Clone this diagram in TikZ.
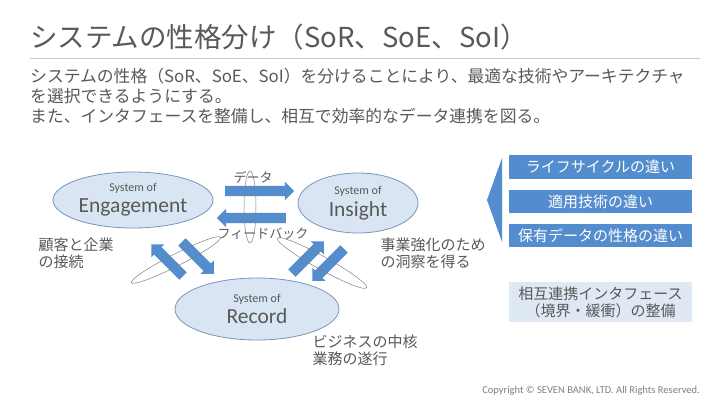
\documentclass[tikz,border=0pt]{standalone}
\usepackage{fontspec}
\setmainfont{Noto Sans CJK JP}
\newfontfamily\latinfont{Carlito}
\usetikzlibrary{shapes.geometric,shapes.arrows}
\definecolor{textgray}{RGB}{89,89,89}
\definecolor{rulegray}{RGB}{200,200,200}
\definecolor{arrblue}{RGB}{84,141,205}
\definecolor{ellfill}{RGB}{218,229,243}
\definecolor{ellline}{RGB}{120,150,185}
\definecolor{lightbox}{RGB}{222,233,244}
\definecolor{copygray}{RGB}{128,128,128}
\tikzset{
	sysell/.style={ellipse,draw=ellline,fill=ellfill,line width=.8pt,inner sep=0pt,align=center,text=textgray},
	blockarr/.style={single arrow,fill=arrblue,draw=none,inner xsep=0pt,inner ysep=5pt,
		single arrow head extend=4pt,minimum height=#1},
	ring/.style={ellipse,draw=gray,line width=.5pt,inner sep=0pt},
	bluebox/.style={fill=arrblue,text=white,minimum width=183pt,inner sep=0pt,
		font=\fontsize{15}{18}\selectfont},
	notetext/.style={text=textgray,align=left,anchor=west,font=\fontsize{15}{17}\selectfont}
}
\newcommand{\sysname}[1]{{\latinfont\fontsize{12}{14}\selectfont System of}\\[4pt]{\latinfont\fontsize{21.5}{23}\selectfont #1}}
\begin{document}
\begin{tikzpicture}[x=1pt,y=-1pt]
	\useasboundingbox[fill=white] (0,0) rectangle (720,405);
	%	title and lead text
	\node (title) [anchor=west,text=textgray,inner sep=0pt,font=\fontsize{27.5}{31}\selectfont] at (30,37) {システムの性格分け（SoR、SoE、SoI）};
	\draw[rulegray,line width=1pt] (30,58) -- (700,58);
	\node (lead) [anchor=north west,text=textgray,inner sep=0pt,align=left,font=\fontsize{16.8}{20}\selectfont] at (30,68)
		{システムの性格（SoR、SoE、SoI）を分けることにより、最適な技術やアーキテクチャ\\を選択できるようにする。\\また、インタフェースを整備し、相互で効率的なデータ連携を図る。};
	%	the three systems
	\node (engage) [sysell,minimum width=160pt,minimum height=56pt] at (133,200) {\sysname{Engagement}};
	\node (insight) [sysell,minimum width=120pt,minimum height=60pt] at (358,203) {\sysname{Insight}};
	\node (record) [sysell,minimum width=164pt,minimum height=62pt] at (257,309) {\sysname{Record}};
	%	data / feedback
	\node (toI) [blockarr=69pt] at (257,191) {};
	\node (toE) [blockarr=69pt,rotate=180] at (254,218) {};
	\node (ringEI) [ring,minimum width=12pt,minimum height=72pt] at (250,207) {};
	\node (data) [text=textgray,font=\fontsize{13}{15}\selectfont] at (253,177) {データ};
	\node (fb) [text=textgray,font=\fontsize{13}{15}\selectfont] at (263,234) {フィードバック};
	%	engagement -- record
	\node (toE2) [blockarr=45pt,rotate=135] at (169,262) {};
	\node (toR1) [blockarr=45pt,rotate=-45] at (196,256) {};
	\node (ringER) [ring,minimum width=100pt,minimum height=12pt,rotate=27] at (176,260) {};
	%	insight -- record
	\node (toI2) [blockarr=45pt,rotate=45] at (306,259) {};
	\node (toR2) [blockarr=45pt,rotate=225] at (330,263) {};
	\node (ringIR) [ring,minimum width=102pt,minimum height=13pt,rotate=-29] at (322,263) {};
	%	notes
	\node (noteE) [notetext] at (35,253) {顧客と企業\\の接続};
	\node (noteI) [notetext] at (377,253) {事業強化のため\\の洞察を得る};
	\node (noteR) [notetext] at (309,350) {ビジネスの中核\\業務の遂行};
	%	right side
	\fill[arrblue] (502,158) -- (487,200) -- (502,242) -- cycle;
	\node (life) [bluebox,minimum height=24pt] at (600.5,167) {ライフサイクルの違い};
	\node (tech) [bluebox,minimum height=23pt] at (600.5,201.5) {適用技術の違い};
	\node (kind) [bluebox,minimum height=23pt] at (600.5,235.5) {保有データの性格の違い};
	\node (iface) [fill=lightbox,text=textgray,minimum width=183pt,minimum height=40pt,inner sep=0pt,align=center,
		font=\fontsize{15}{17}\selectfont] at (600.5,302) {相互連携インタフェース\\（境界・緩衝）の整備};
	\node (copy) [anchor=east,text=copygray,inner sep=0pt,font=\latinfont\fontsize{10.5}{12}\selectfont] at (700,391)
		{Copyright © SEVEN BANK, LTD. All Rights Reserved.};
\end{tikzpicture}
\end{document}
